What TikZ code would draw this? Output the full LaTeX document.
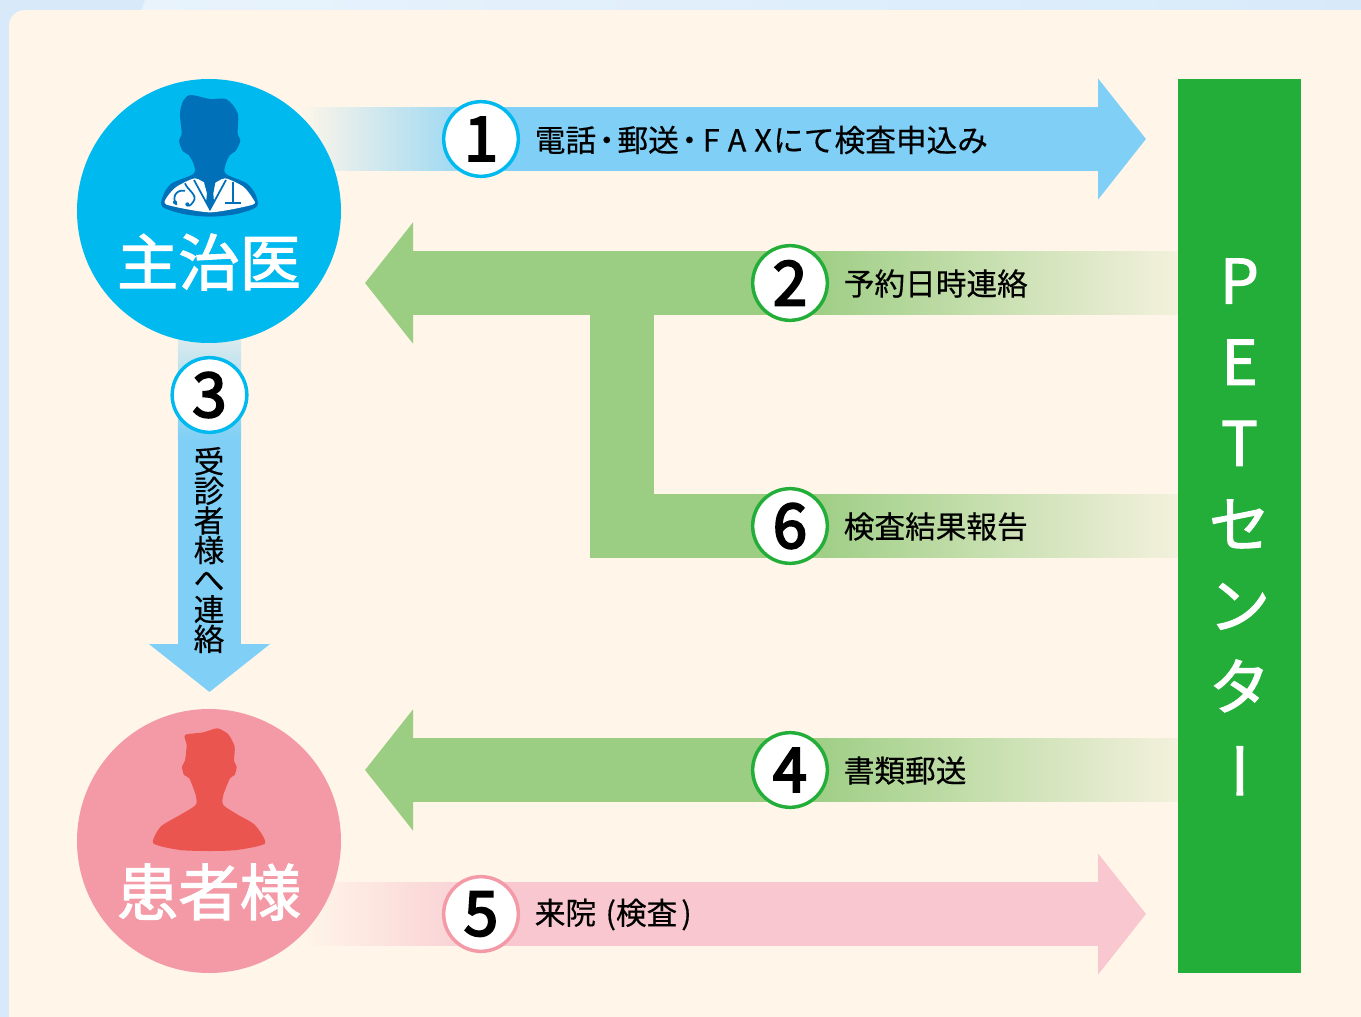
\documentclass[tikz,border=0pt]{standalone}
\usepackage{fontspec}
\setmainfont{Noto Sans CJK JP}
\newfontfamily\capfont[FakeBold=0.4]{Noto Sans CJK JP}
\newfontfamily\midfont[FakeBold=1.8]{Noto Sans CJK JP}
\newfontfamily\digitfont[FakeBold=3.6]{Noto Sans CJK JP}
\usetikzlibrary{arrows.meta,backgrounds}
\definecolor{pagebg}{HTML}{D8EAFA}
\definecolor{pagelt}{HTML}{E8F3FC}
\definecolor{creambg}{HTML}{FFF6E9}
\definecolor{cyanc}{HTML}{00B9EF}
\definecolor{navyc}{HTML}{0070B9}
\definecolor{pinkc}{HTML}{F39AA6}
\definecolor{redc}{HTML}{EB5550}
\definecolor{skyband}{HTML}{7FCFF6}
\definecolor{greenband}{HTML}{9BCD82}
\definecolor{rosband}{HTML}{F8C7CF}
\definecolor{petgreen}{HTML}{22AE38}
\newcommand{\tdot}{\kern-3.5pt・\kern-3.5pt}
\newcommand{\tightlines}{\lineskiplimit=-100pt\relax}
\begin{document}
\begin{tikzpicture}[x=0.75pt,y=-0.75pt]
        \tikzstyle{person}=[circle,minimum size=198pt,inner sep=0pt]
        \tikzstyle{badge}=[circle,fill=white,line width=2.6pt,minimum size=56pt,inner sep=0pt,font=\fontsize{46}{46}\selectfont\digitfont]
        \tikzstyle{title}=[text=white,inner sep=0pt,font=\fontsize{46}{46}\selectfont\midfont]
        \tikzstyle{caption}=[anchor=west,inner sep=0pt,text=black,font=\fontsize{23}{23}\selectfont\capfont]
        \tikzstyle{band}=[line width=47.6pt]
        \tikzstyle{tip}=[-{Triangle[length=36pt,width=89pt]}]
       \useasboundingbox (0,0) rectangle (1361,1017);
       % circles and boxes
       \node [person,fill=cyanc] (doctor) at (209,211) {};
       \node [person,fill=pinkc] (patient) at (209,841) {};
       \node [title] (doctorlabel) at (209,262) {主治医};
       \node [title] (patientlabel) at (209,892) {患者様};
       \node [fill=petgreen,minimum width=92.25pt,minimum height=670.5pt,inner sep=0pt] (pet) at (1239.5,526) {};
       \node [inner sep=0pt,text=white,align=center,font=\fontsize{46}{60.9}\selectfont\midfont\tightlines] (pettext) at (1239.5,530)
              {P\\E\\T\\セ\\ン\\タ\\\kern16pt\raisebox{5pt}{\rotatebox[origin=c]{90}{ー}}};
       % numbers
       \node [badge,draw=cyanc] (n1) at (481,139) {1};
       \node [badge,draw=petgreen] (n2) at (790,283) {2};
       \node [badge,draw=cyanc] (n3) at (209.5,395) {3};
       \node [badge,draw=petgreen] (n4) at (790,770) {4};
       \node [badge,draw=pinkc] (n5) at (481,914) {5};
       \node [badge,draw=petgreen] (n6) at (790,526) {6};
       \node [caption] (t1) at (534.5,140) {電話\tdot 郵送\tdot\kern2pt F\kern6pt A\kern6pt X\kern1pt にて検査申込み};
       \node [caption] (t2) at (843.5,283.5) {予約日時連絡};
       \node [caption] (t4) at (843.5,770.5) {書類郵送};
       \node [caption] (t5) at (534.5,914.5) {来院\kern2pt{} (検査\kern3pt)};
       \node [caption] (t6) at (843.5,526.5) {検査結果報告};
       \node [inner sep=0pt,align=center,font=\fontsize{23}{22.2}\selectfont\capfont\tightlines] (t3) at (209,550)
             {受\\診\\者\\様\\へ\\連\\絡};
       \coordinate (tip1) at (1146,139);
       \coordinate (tip2) at (365,283);
       \coordinate (tip3) at (209.5,692);
       \coordinate (tip4) at (365,770);
       \coordinate (tip5) at (1146,914);
       \coordinate (join6) at (622,283);
       \begin{pgfonlayer}{background}
         % page
         \fill [pagebg] (0,0) rectangle (1361,1017);
         \shade [left color=pagelt,right color=pagebg] (145,0) -- (1361,0) -- (1361,12) -- (141,12) -- cycle;
         \fill [creambg,rounded corners=12pt] (9,10) rectangle (1400,1060);
         % bands
         \path[draw=skyband,band,tip] (n1.center) -- (tip1);
         \path[draw=rosband,band,tip] (n5.center) -- (tip5);
         \path[draw=skyband,band,tip] (n3.center) -- (tip3);
         \path[draw=greenband,band,tip] (n2.center) -- (tip2);
         \path[draw=greenband,band,tip] (n4.center) -- (tip4);
         \path[draw=greenband,band] (n6.center) -| (join6);
         % fading tails
         \shade [left color=creambg,right color=skyband] (300,107.3) rectangle (510,170.7);
         \shade [left color=creambg,right color=rosband] (300,882.3) rectangle (510,945.7);
         \shade [top color=skyband!30!creambg,bottom color=skyband] (177.8,340) rectangle (241.2,440);
         \shade [left color=greenband,right color=greenband!12!creambg] (800,251.3) rectangle (1178,314.7);
         \shade [left color=greenband,right color=greenband!12!creambg] (800,494.3) rectangle (1178,557.7);
         \shade [left color=greenband,right color=greenband!12!creambg] (800,738.3) rectangle (1178,801.7);
       \end{pgfonlayer}
       % doctor figure
       \begin{scope}[shift={(70,70)},x=0.25pt,y=-0.25pt]
         \fill [navyc] plot[smooth cycle,tension=0.5] coordinates {(362,75) (420,87) (470,88) (503,130) (503,190) (511,212) (497,243) (480,255) (466,285) (468,312) (530,340) (557,375) (560,410) (500,432) (420,440) (340,432) (277,410) (280,375) (305,340) (370,312) (372,285) (356,255) (338,243) (327,212) (335,190) (330,130) (340,92)};
         \fill [white] plot[smooth cycle,tension=0.4] coordinates {(375,325) (420,345) (465,325) (520,350) (548,385) (548,404) (420,427) (290,404) (292,380) (320,350)};
         \fill [navyc] (402,337) -- (436,337) -- (430,370) -- (432,398) -- (420,418) -- (408,398) -- (411,370) -- cycle;
         \draw [navyc,line width=1.3pt] (372,330) -- (420,418) -- (468,330);
         \draw [navyc,line width=1.3pt] (345,340) .. controls (352,360) and (385,375) .. (370,395) .. controls (360,410) and (355,408) .. (350,406);
         \draw [navyc,line width=1.3pt] (345,362) .. controls (315,358) and (305,385) .. (320,405);
         \fill [navyc] (315,397) circle (6);
         \fill [navyc] (352,403) circle (6);
         \draw [navyc,line width=1.3pt] (490,335) -- (490,398) (465,400) -- (512,400);
       \end{scope}
       % patient figure
       \begin{scope}[shift={(70,700)},x=0.25pt,y=-0.25pt]
         \fill [redc] plot[smooth cycle,tension=0.4] coordinates {(345,105) (400,97) (442,85) (475,103) (494,140) (492,182) (500,200) (494,225) (480,235) (460,285) (460,315) (505,345) (555,375) (585,430) (500,450) (418,453) (330,450) (250,430) (272,380) (330,345) (377,315) (377,285) (358,235) (342,225) (336,200) (345,182) (350,135)};
       \end{scope}
\end{tikzpicture}
\end{document}
